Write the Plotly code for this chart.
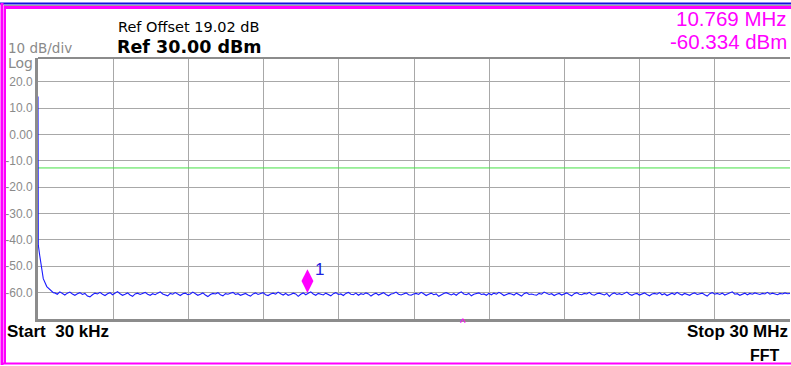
import plotly.graph_objects as go

# ---------------- data ----------------
start_freq_mhz = [0.03, 0.031, 0.042, 0.10, 0.177, 0.24, 0.38, 0.51, 0.64]
start_level_dbm = [14.4, -40.0, -42.0, -46.0, -51.5, -54.7, -57.7, -59.0, -60.0]

floor_start_mhz = 0.7
floor_step_mhz = 0.1
floor_level_dbm = [
    -60.1, -60.6, -59.7, -60.3, -60.9, -60.2, -59.8, -60.5, -61.0, -60.4, -60.0, -60.7, -60.3, -61.3,
    -61.6, -60.8, -60.2, -60.5, -59.9, -60.6, -61.1, -60.4, -60.0, -60.8, -60.3, -59.6, -60.4, -61.0,
    -60.6, -60.1, -60.9, -61.4, -60.5, -60.2, -60.7, -60.3, -59.9, -60.6, -61.0, -60.4, -60.8, -60.2,
    -59.7, -60.5, -60.9, -61.2, -60.3, -60.6, -60.0, -60.7, -61.1, -60.4, -60.2, -60.8, -60.5, -59.8,
    -60.4, -61.0, -60.6, -60.1, -60.9, -61.5, -60.7, -60.3, -60.5, -60.0, -60.8, -61.2, -60.4, -60.6,
    -60.2, -59.9, -60.7, -60.4, -61.0, -60.6, -60.3, -60.9, -61.3, -60.5, -60.1, -60.7, -60.4, -60.0,
    -60.8, -61.1, -60.5, -60.2, -60.6, -59.8, -60.4, -60.9, -60.3, -61.0, -60.7, -60.2, -60.5, -61.4,
    -60.6, -60.1, -60.8, -60.4, -59.7, -60.5, -61.0, -60.3, -60.7, -60.9, -60.2, -60.6, -61.2, -60.4,
    -60.0, -60.7, -60.5, -61.1, -60.3, -59.9, -60.6, -60.8, -60.2, -61.0, -60.4, -60.7, -60.1, -60.5,
    -61.3, -60.6, -60.2, -60.9, -60.4, -60.0, -60.7, -61.2, -60.5, -60.3, -59.8, -60.6, -60.9, -60.4,
    -60.1, -60.8, -61.0, -60.5, -60.3, -60.7, -59.9, -60.4, -61.1, -60.6, -60.2, -60.8, -60.5, -61.4,
    -60.7, -60.3, -60.0, -60.6, -60.9, -60.4, -61.0, -60.2, -59.7, -60.5, -60.8, -60.3, -61.2, -60.6,
    -60.4, -60.1, -60.7, -60.5, -61.0, -60.3, -60.8, -60.2, -60.6, -59.9, -60.4, -61.1, -60.7, -60.3,
    -60.5, -60.9, -60.2, -60.6, -61.3, -60.4, -60.0, -60.7, -60.5, -60.8, -61.0, -60.3, -60.6, -59.8,
    -60.2, -60.7, -60.4, -61.1, -60.6, -60.3, -60.9, -60.5, -60.1, -60.7, -61.2, -60.4, -60.0, -60.6,
    -60.8, -60.3, -60.5, -59.9, -60.7, -61.0, -60.4, -60.2, -60.6, -60.9, -60.3, -61.4, -60.5, -60.1,
    -60.7, -60.4, -60.8, -60.2, -59.8, -60.6, -61.0, -60.5, -60.3, -60.9, -60.4, -60.1, -60.7, -61.2,
    -60.5, -60.3, -60.6, -60.0, -60.8, -60.4, -61.1, -60.6, -60.2, -60.7, -59.9, -60.5, -60.9, -60.3,
    -60.6, -61.0, -60.4, -60.1, -60.7, -60.5, -60.2, -60.8, -61.3, -60.4, -60.0, -60.6, -60.3, -60.7,
    -60.2, -60.9, -60.5, -60.3, -59.7, -60.6, -60.4, -61.0, -60.5, -60.2, -60.8, -60.3, -60.6, -60.1,
    -60.4, -60.7, -60.3, -60.5, -59.9, -60.6, -60.2, -60.4, -60.8, -60.3, -60.5, -60.1, -60.4, -60.3,
]
floor_freq_mhz = [round(floor_start_mhz + floor_step_mhz * i, 3) for i in range(len(floor_level_dbm))]

display_line_dbm = -12.7
marker_freq_mhz = 10.769
marker_level_dbm = -60.334
marker_symbol_level = -55.6
center_caret_mhz = 16.97

start_mhz = 0.03
stop_mhz = 30.0
top_level = 29.0
bottom_level = -70.0
y_tickvals = [20, 10, 0, -10, -20, -30, -40, -50, -60]
y_ticktext = ["20.0", "10.0", "0.00", "-10.0", "-20.0", "-30.0", "-40.0", "-50.0", "-60.0"]

# ---------------- layout geometry ----------------
W, H = 791, 366
L, R, T, B = 38, 1, 58, 47
PW, PH = W - L - R, H - T - B


def px_x(x):
    return (x - L) / PW


def px_y(y):
    return (H - B - y) / PH


ARIAL = "Liberation Sans, Arial, sans-serif"
DEJAVU = "DejaVu Sans, Verdana, sans-serif"
MAG = "#ff00ff"
GRID = "#a8a8a8"
AXC = "#8c8c8c"
GREYTXT = "#8a8a8a"

freq = start_freq_mhz + floor_freq_mhz
level = start_level_dbm + floor_level_dbm

fig = go.Figure()
fig.add_trace(go.Scatter(x=[start_mhz, stop_mhz], y=[display_line_dbm, display_line_dbm],
                         mode="lines", line=dict(color="#44e044", width=1), hoverinfo="skip"))
fig.add_trace(go.Scatter(x=freq, y=level, mode="lines",
                         line=dict(color="#1a1aff", width=1.1), hoverinfo="skip"))
fig.add_trace(go.Scatter(x=[marker_freq_mhz], y=[marker_symbol_level], mode="markers",
                         marker=dict(symbol="diamond-tall", size=17, color=MAG,
                                     line=dict(width=0)), hoverinfo="skip"))

dtick = (stop_mhz - start_mhz) / 10
fig.update_xaxes(range=[start_mhz, stop_mhz], tick0=start_mhz, dtick=dtick,
                 showgrid=True, gridcolor=GRID, gridwidth=1, showticklabels=False,
                 zeroline=False, showline=True, linecolor=AXC, linewidth=3,
                 layer="below traces", fixedrange=True)
fig.update_yaxes(range=[bottom_level, top_level], tickvals=y_tickvals, ticktext=y_ticktext,
                 showgrid=True, gridcolor=GRID, gridwidth=1, zeroline=False,
                 showline=True, linecolor=AXC, linewidth=3, ticks="",
                 tickfont=dict(family=ARIAL, size=12, color=GREYTXT),
                 layer="below traces", fixedrange=True)

shapes = [
    dict(type="line", xref="paper", yref="paper", x0=0, x1=1, y0=1, y1=1,
         line=dict(color=AXC, width=2)),
    dict(type="line", xref="paper", yref="paper", x0=px_x(0), x1=px_x(W), y0=px_y(3.5), y1=px_y(3.5),
         line=dict(color="#1010e0", width=2)),
    dict(type="line", xref="paper", yref="paper", x0=px_x(4), x1=px_x(W), y0=px_y(5.5), y1=px_y(5.5),
         line=dict(color="#a0a0a0", width=1)),
    dict(type="line", xref="paper", yref="paper", x0=px_x(4), x1=px_x(W), y0=px_y(7.5), y1=px_y(7.5),
         line=dict(color=MAG, width=3)),
    dict(type="line", xref="paper", yref="paper", x0=px_x(2), x1=px_x(2), y0=px_y(3), y1=px_y(365),
         line=dict(color=MAG, width=3)),
    dict(type="line", xref="paper", yref="paper", x0=px_x(5), x1=px_x(5), y0=px_y(6), y1=px_y(364),
         line=dict(color=MAG, width=2)),
    dict(type="line", xref="paper", yref="paper", x0=px_x(2), x1=px_x(W), y0=px_y(363.5), y1=px_y(363.5),
         line=dict(color=MAG, width=2)),
]

NB = "\u00a0"
ann = [
    dict(text="Ref Offset 19.02 dB", x=px_x(116), y=px_y(27), xanchor="left", yanchor="middle",
         font=dict(family=DEJAVU, size=14.5, color="black")),
    dict(text="<b>Ref 30.00 dBm</b>", x=px_x(115), y=px_y(46.5), xanchor="left", yanchor="middle",
         font=dict(family=DEJAVU, size=17.5, color="black")),
    dict(text="10 dB/div", x=px_x(6), y=px_y(47.5), xanchor="left", yanchor="middle",
         font=dict(family=DEJAVU, size=13.5, color=GREYTXT)),
    dict(text="Log", x=px_x(6), y=px_y(63), xanchor="left", yanchor="middle",
         font=dict(family=DEJAVU, size=14, color=GREYTXT)),
    dict(text=f"{marker_freq_mhz:.3f} MHz", x=px_x(789), y=px_y(18.5), xanchor="right", yanchor="middle",
         font=dict(family=ARIAL, size=20.5, color=MAG)),
    dict(text=f"{marker_level_dbm:.3f} dBm", x=px_x(789), y=px_y(41.5), xanchor="right", yanchor="middle",
         font=dict(family=ARIAL, size=20.5, color=MAG)),
    dict(text=f"<b>Start{NB}{NB}30 kHz</b>", x=px_x(5), y=px_y(331), xanchor="left", yanchor="middle",
         font=dict(family=ARIAL, size=17, color="black")),
    dict(text="<b>Stop 30 MHz</b>", x=px_x(790), y=px_y(331), xanchor="right", yanchor="middle",
         font=dict(family=ARIAL, size=17, color="black")),
    dict(text="<b>FFT</b>", x=px_x(782), y=px_y(355), xanchor="right", yanchor="middle",
         font=dict(family=ARIAL, size=16, color="black")),
]
for a in ann:
    a.update(xref="paper", yref="paper", showarrow=False)

ann.append(dict(text="1", x=marker_freq_mhz, y=marker_symbol_level, xref="x", yref="y",
                xshift=12, yshift=12, showarrow=False,
                font=dict(family=ARIAL, size=17, color="#2020e0")))
ann.append(dict(text="^", x=center_caret_mhz, y=px_y(323), xref="x", yref="paper", showarrow=False,
                yanchor="middle", font=dict(family=ARIAL, size=12, color=MAG)))

fig.update_layout(width=W, height=H, margin=dict(l=L, r=R, t=T, b=B),
                  paper_bgcolor="white", plot_bgcolor="white", showlegend=False,
                  shapes=shapes, annotations=ann)

fig.write_html("out.html")
